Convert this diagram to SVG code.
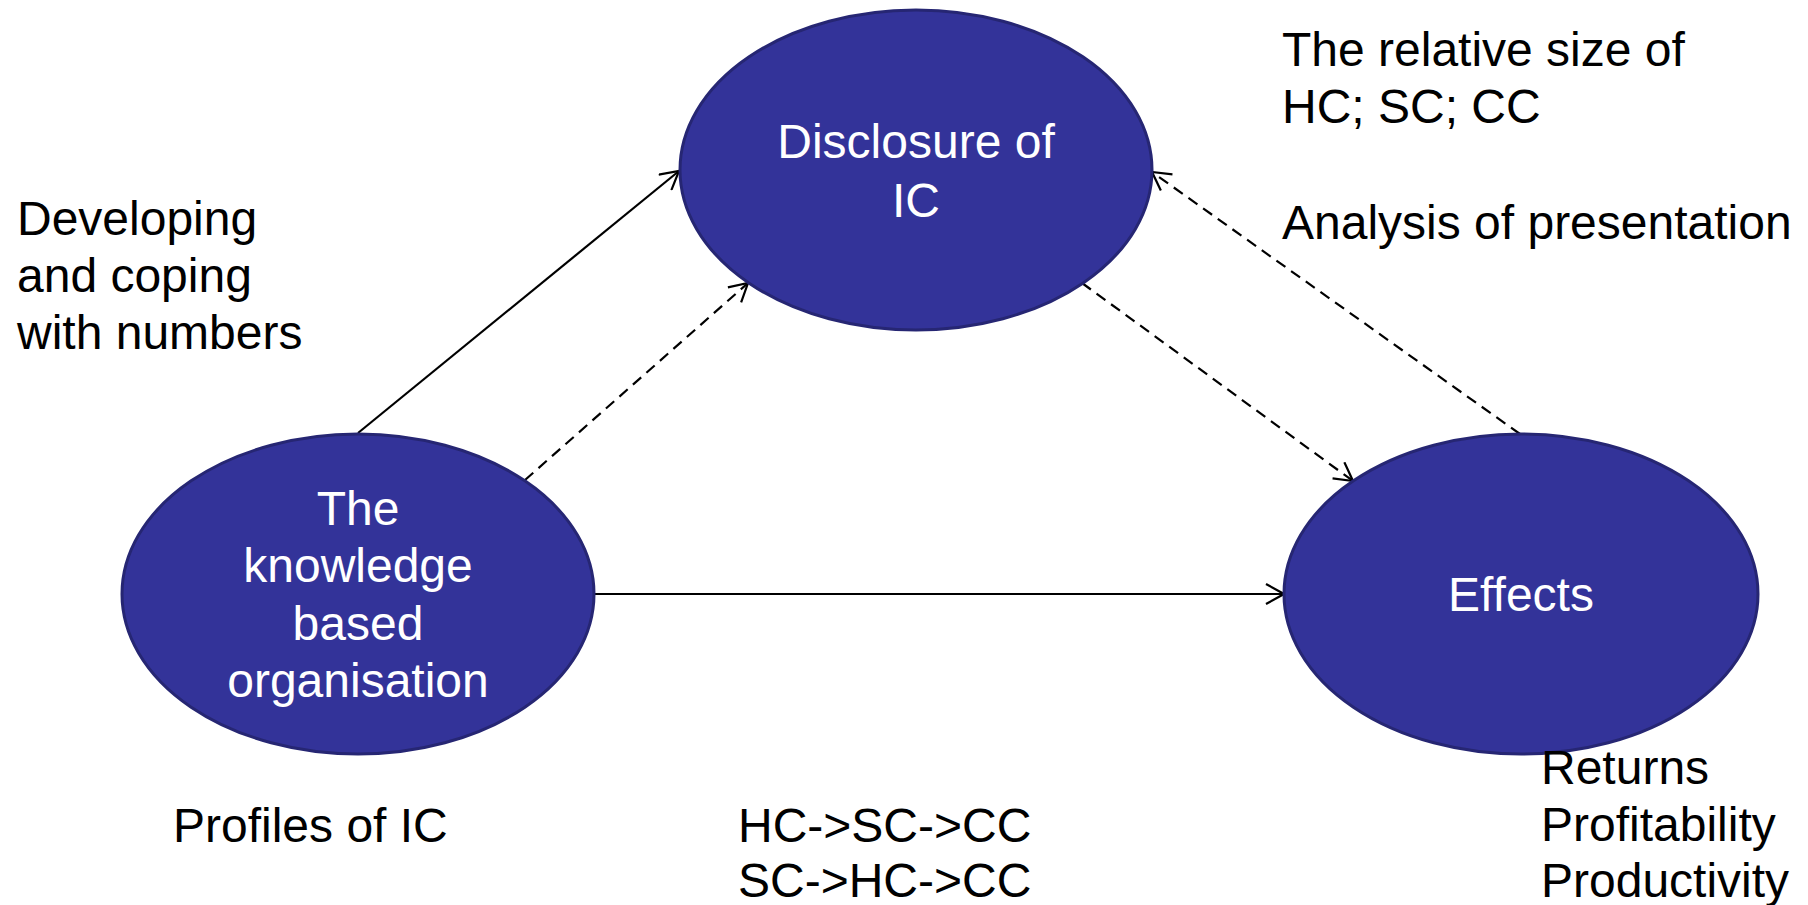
<svg xmlns="http://www.w3.org/2000/svg" width="1808" height="905" viewBox="0 0 1808 905">
<style>
.node{fill:#333399;stroke:#262673;stroke-width:3}
.nt{font-family:"Liberation Sans",Arial,sans-serif;font-size:48px;fill:#ffffff;text-anchor:middle}
.lbl{font-family:"Liberation Sans",Arial,sans-serif;font-size:48px;fill:#000000}
.c{stroke:#000;stroke-width:2.2;fill:none;marker-end:url(#arr)}
.d{stroke-dasharray:11 7}
</style>
<defs>
<marker id="arr" viewBox="0 0 22 22" markerWidth="22" markerHeight="22" refX="20" refY="11" orient="auto" markerUnits="userSpaceOnUse">
<path d="M2,1 L20,11 L2,21" fill="none" stroke="#000" stroke-width="2.2"/>
</marker>
</defs>
<rect width="1808" height="905" fill="#fff"/>
<g id="connectors">
<line class="c" x1="358" y1="433" x2="679" y2="171"/>
<line class="c d" x1="525" y1="480" x2="748" y2="283"/>
<line class="c d" x1="1082" y1="283" x2="1353" y2="481"/>
<line class="c d" x1="1520" y1="434" x2="1152" y2="172"/>
<line class="c" x1="594" y1="594" x2="1284" y2="594"/>
</g>
<g id="disclosure">
<ellipse class="node" cx="916" cy="170" rx="236" ry="160"/>
<text class="nt" x="916" y="158">Disclosure of</text>
<text class="nt" x="916" y="217">IC</text>
</g>
<g id="knowledge">
<ellipse class="node" cx="358" cy="594" rx="236" ry="160"/>
<text class="nt" x="358" y="525">The</text>
<text class="nt" x="358" y="582">knowledge</text>
<text class="nt" x="358" y="640">based</text>
<text class="nt" x="358" y="697">organisation</text>
</g>
<g id="effects">
<ellipse class="node" cx="1521" cy="594" rx="237" ry="160"/>
<text class="nt" x="1521" y="611">Effects</text>
</g>
<g id="labels">
<text class="lbl" x="17" y="235">Developing</text>
<text class="lbl" x="17" y="292">and coping</text>
<text class="lbl" x="17" y="349">with numbers</text>
<text class="lbl" x="1282" y="66">The relative size of</text>
<text class="lbl" x="1282" y="123">HC; SC; CC</text>
<text class="lbl" x="1282" y="239">Analysis of presentation</text>
<text class="lbl" x="173" y="842">Profiles of IC</text>
<text class="lbl" x="738" y="842">HC-&gt;SC-&gt;CC</text>
<text class="lbl" x="738" y="897">SC-&gt;HC-&gt;CC</text>
<text class="lbl" x="1541" y="784">Returns</text>
<text class="lbl" x="1541" y="841">Profitability</text>
<text class="lbl" x="1541" y="897">Productivity</text>
</g>
</svg>
